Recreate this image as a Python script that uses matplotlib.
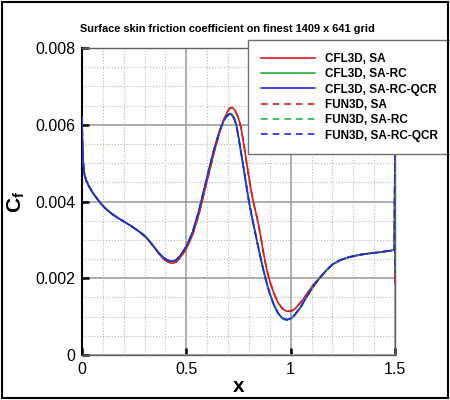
import matplotlib
matplotlib.use('Agg')
import matplotlib.pyplot as plt
import matplotlib.patches as mpatches
from matplotlib.ticker import MultipleLocator, FixedLocator, FixedFormatter

plt.rcParams['font.family'] = ['Liberation Sans', 'DejaVu Sans']
plt.rcParams['mathtext.fontset'] = 'custom'
plt.rcParams['mathtext.rm'] = 'Liberation Sans'
plt.rcParams['mathtext.bf'] = 'Liberation Sans:bold'

# surface coordinate, shared by all curves
x = [0.0, 0.002, 0.006, 0.012, 0.02, 0.035, 0.05, 0.07, 0.09, 0.11, 0.14, 0.17, 0.20, 0.23,
     0.26, 0.29, 0.31, 0.33, 0.35, 0.37, 0.39, 0.41, 0.43, 0.45, 0.47, 0.50, 0.53, 0.56,
     0.60, 0.63, 0.66, 0.68, 0.70, 0.71, 0.72, 0.73, 0.74, 0.75, 0.76, 0.77, 0.78, 0.79,
     0.80, 0.81, 0.82, 0.83, 0.84, 0.85, 0.86, 0.87, 0.88, 0.89, 0.90, 0.92, 0.94, 0.96,
     0.98, 1.00, 1.02, 1.05, 1.08, 1.11, 1.14, 1.17, 1.20, 1.24, 1.28, 1.33, 1.38, 1.43,
     1.48, 1.497, 1.5, 1.5]

front = [0.0062, 0.0055, 0.0050, 0.0047, 0.00455, 0.00438, 0.00424, 0.00409, 0.00395,
         0.00383, 0.00369, 0.00358, 0.00348, 0.00338, 0.00327, 0.00315, 0.00305, 0.00292,
         0.00278]
rear = [0.00220, 0.00236, 0.00248, 0.00255, 0.00261, 0.00265, 0.00268, 0.00272, 0.00274]

cf_sa = front + [
    0.00263, 0.00251, 0.00243, 0.00239, 0.00242, 0.00253, 0.00277, 0.00313, 0.00366,
    0.00455, 0.00522, 0.00582, 0.00614, 0.00637, 0.00644, 0.00645, 0.00640, 0.00630,
    0.00617, 0.00597, 0.00567, 0.00533, 0.00497, 0.00463, 0.00430, 0.00402, 0.00378,
    0.00355, 0.00328, 0.00297, 0.00265, 0.00237, 0.00212, 0.00192, 0.00160, 0.00136,
    0.00121, 0.00114, 0.00114, 0.00120, 0.00138, 0.00161, 0.00184, 0.00202] + rear + [0.0053, 0.00188]

cf_rc = front + [
    0.00265, 0.00254, 0.00247, 0.00244, 0.00247, 0.00258, 0.00283, 0.00320, 0.00375,
    0.00465, 0.00530, 0.00585, 0.00612, 0.00627, 0.00630, 0.00626, 0.00616, 0.00598,
    0.00568, 0.00535, 0.00502, 0.00468, 0.00434, 0.00400, 0.00372, 0.00345, 0.00319,
    0.00293, 0.00268, 0.00243, 0.00220, 0.00198, 0.00178, 0.00160, 0.00129, 0.00108,
    0.00095, 0.00091, 0.00094, 0.00104, 0.00126, 0.00154, 0.00180, 0.00201] + rear + [0.0054, 0.00205]

cf_qcr = front + [
    0.00265, 0.00254, 0.00247, 0.00244, 0.00247, 0.00258, 0.00283, 0.00320, 0.00375,
    0.00465, 0.00530, 0.00585, 0.00612, 0.00626, 0.00628, 0.00625, 0.00615, 0.00598,
    0.00568, 0.00535, 0.00502, 0.00468, 0.00434, 0.00400, 0.00372, 0.00345, 0.00319,
    0.00293, 0.00268, 0.00243, 0.00220, 0.00198, 0.00178, 0.00160, 0.00130, 0.00109,
    0.00096, 0.00092, 0.00095, 0.00105, 0.00127, 0.00155, 0.00180, 0.00201] + rear + [0.0055, 0.00214]

labels = ['CFL3D, SA', 'CFL3D, SA-RC', 'CFL3D, SA-RC-QCR',
          'FUN3D, SA', 'FUN3D, SA-RC', 'FUN3D, SA-RC-QCR']
colors = ['#d81e1e', '#1fb53a', '#2424e6']

fig = plt.figure(figsize=(4.5, 4.0), dpi=100)
ax = fig.add_axes([0.1822, 0.1125, 0.6956, 0.7675])

series = [cf_sa, cf_rc, cf_qcr]
for cf, c, lab in zip(series, colors, labels[:3]):
    ax.plot(x, cf, color=c, lw=1.2, label=lab, zorder=3)
for cf, c, lab in zip(series, colors, labels[3:]):
    ax.plot(x, cf, color=c, lw=1.2, ls=(0, (4, 3)), label=lab, zorder=3)

ax.set_xlim(0, 1.5)
ax.set_ylim(0, 0.008)
ax.xaxis.set_major_locator(FixedLocator([0, 0.5, 1, 1.5]))
ax.xaxis.set_major_formatter(FixedFormatter(['0', '0.5', '1', '1.5']))
ax.yaxis.set_major_locator(FixedLocator([0, 0.002, 0.004, 0.006, 0.008]))
ax.yaxis.set_major_formatter(FixedFormatter(['0', '0.002', '0.004', '0.006', '0.008']))
ax.xaxis.set_minor_locator(MultipleLocator(0.1))
ax.yaxis.set_minor_locator(MultipleLocator(0.0005))

ax.grid(which='major', color='#a0a0a0', lw=1.2, ls='-', zorder=1)
ax.grid(which='minor', color='#b8b8b8', lw=0.8, ls=':', zorder=1)
ax.set_axisbelow(True)

ax.tick_params(which='major', direction='in', length=5, width=1.8, color='black',
               labelsize=11.5, pad=5)
ax.tick_params(which='minor', length=0)
for s in ['top', 'right', 'bottom']:
    ax.spines[s].set_color('#606060')
    ax.spines[s].set_linewidth(1.0)
ax.spines['left'].set_color('black')
ax.spines['left'].set_linewidth(1.5)

ax.set_xlabel('x', fontsize=15, fontweight='bold', labelpad=0)
ax.set_ylabel(r'$\mathbf{C}_\mathbf{f}$', fontsize=15, labelpad=6)

fig.text(0.505, 1 - 29 / 400, 'Surface skin friction coefficient on finest 1409 x 641 grid',
         ha='center', va='center', fontsize=7.9, fontweight='bold')

leg = ax.legend(loc='upper left', bbox_to_anchor=(0.551, 0.9), bbox_transform=fig.transFigure,
                borderaxespad=0, fancybox=False, framealpha=1, edgecolor='#707070',
                prop={'size': 8.5, 'weight': 'bold'}, handlelength=4.6, handletextpad=0.8,
                labelspacing=0.28, borderpad=1.1)
leg.get_frame().set_linewidth(1.0)
leg.set_zorder(5)

fig.patches.append(mpatches.Rectangle((0.004, 0.005), 0.991, 0.99, transform=fig.transFigure,
                                      fill=False, edgecolor='black', lw=1.5))

fig.savefig('out.png', dpi=100)
